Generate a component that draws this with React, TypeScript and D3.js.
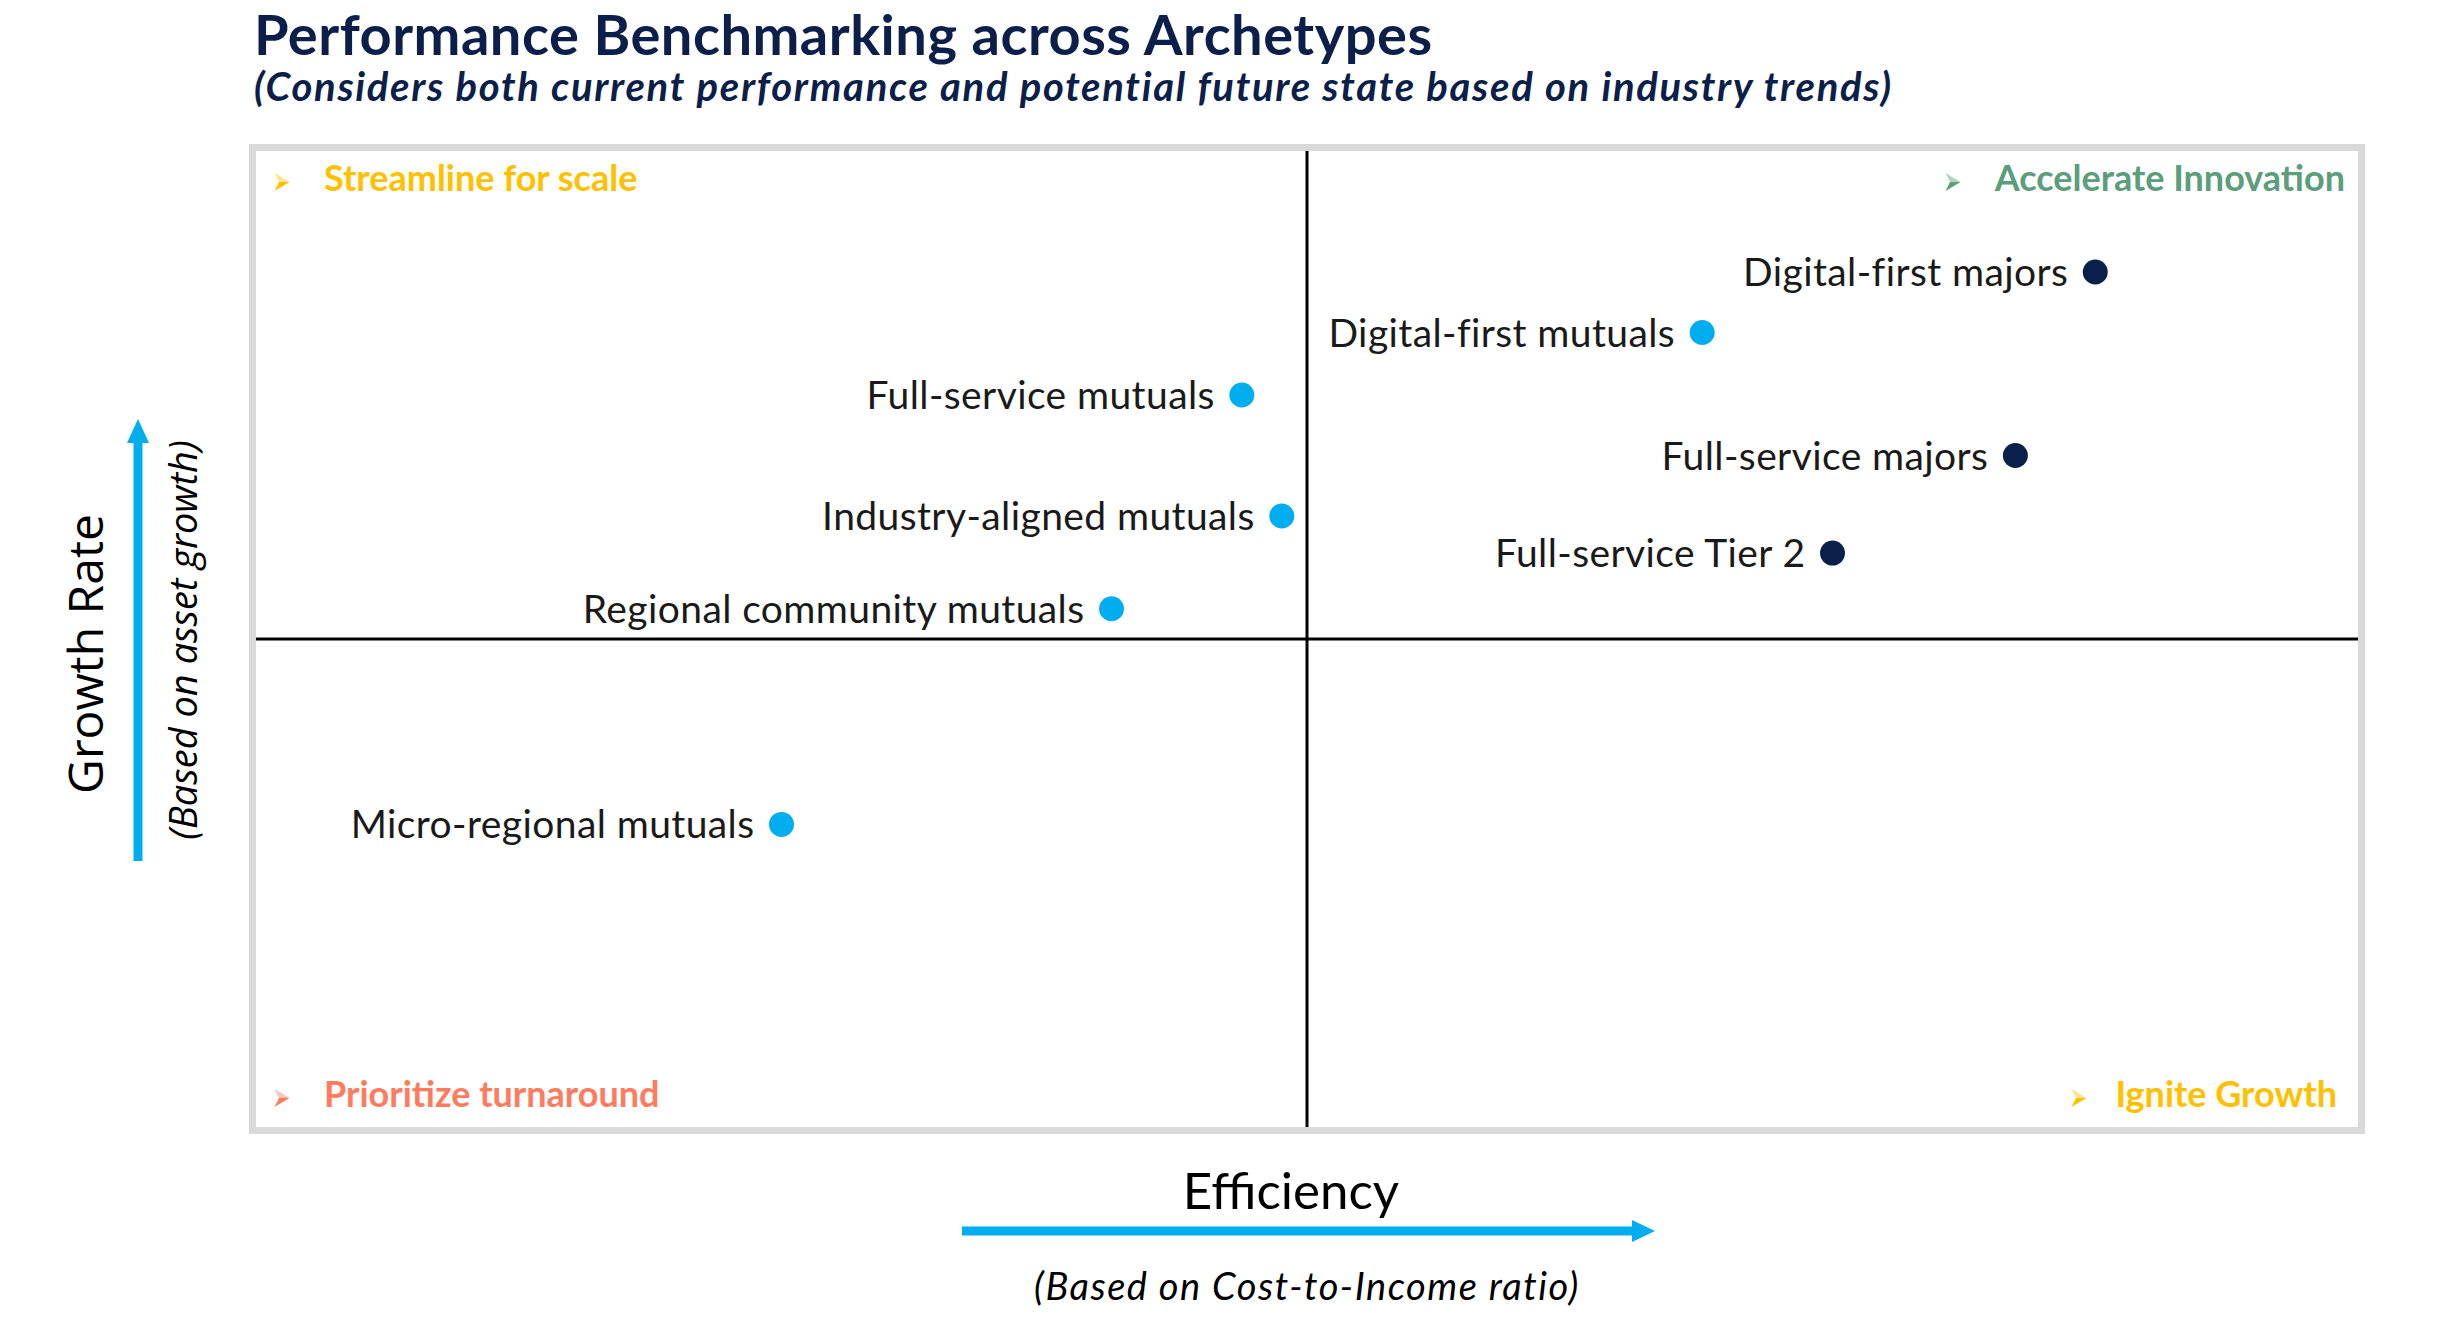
import * as d3 from "d3";

// archetypes: efficiency (x, 0-100) and growth rate (y, 0-100), 50 = quadrant split
const names = [
  "Digital-first majors",
  "Digital-first mutuals",
  "Full-service mutuals",
  "Full-service majors",
  "Industry-aligned mutuals",
  "Full-service Tier 2",
  "Regional community mutuals",
  "Micro-regional mutuals",
];
const efficiency = [87.5, 68.8, 46.9, 83.7, 48.8, 75, 40.7, 25];
const growth = [87.6, 81.4, 75, 68.8, 62.6, 58.8, 53.1, 31];
const groups = ["major", "mutual", "mutual", "major", "mutual", "major", "mutual", "mutual"];

const quadrants = [
  { name: "Streamline for scale", corner: "tl", color: "#FFC000" },
  { name: "Accelerate Innovation", corner: "tr", color: "#5A9E7B" },
  { name: "Prioritize turnaround", corner: "bl", color: "#FF7B5E" },
  { name: "Ignite Growth", corner: "br", color: "#FFC000" },
];

const W = 2440;
const H = 1328;
const box = { left: 256, right: 2358, top: 151, bottom: 1127 };
const navy = "#0B1F4B";
const blue = "#00AEEF";

const x = d3.scaleLinear().domain([0, 100]).range([box.left, box.right]);
const y = d3.scaleLinear().domain([0, 100]).range([box.bottom, box.top]);
const color = d3.scaleOrdinal<string, string>().domain(["major", "mutual"]).range([navy, blue]);

function Marker({ cx, cy, fill }: { cx: number; cy: number; fill: string }) {
  const w = 15;
  const h = 18;
  const x0 = cx - w / 2;
  const y0 = cy - h / 2;
  const top = d3.path();
  top.moveTo(x0, y0);
  top.lineTo(x0 + w, y0 + h / 2);
  top.lineTo(x0 + w * 0.3, y0 + h / 2);
  top.closePath();
  const bottom = d3.path();
  bottom.moveTo(x0 + w * 0.3, y0 + h / 2);
  bottom.lineTo(x0 + w, y0 + h / 2);
  bottom.lineTo(x0, y0 + h);
  bottom.closePath();
  return (
    <g>
      <path d={top.toString()} fill={fill} opacity={0.45} />
      <path d={bottom.toString()} fill={fill} />
    </g>
  );
}

export default function App() {
  const points = names.map((n, i) => ({
    name: n,
    x: efficiency[i],
    y: growth[i],
    group: groups[i],
  }));
  const cx = x(50);
  const cy = y(50);

  return (
    <svg
      width={W}
      height={H}
      style={{ position: "absolute", left: 0, top: 0, display: "block", background: "#fff" }}
      fontFamily="Lato, 'Noto Sans', sans-serif"
    >
      <rect width={W} height={H} fill="#fff" />

      {/* title */}
      <text x={254} y={55} fontSize={56} fontWeight={700} letterSpacing={0.5} fill="#0C1F4A">
        Performance Benchmarking across Archetypes
      </text>
      <text
        x={254}
        y={101}
        fontSize={40}
        fontWeight={700}
        fontStyle="italic"
        letterSpacing={1.7}
        fill="#0C1F4A"
      >
        (Considers both current performance and potential future state based on industry trends)
      </text>

      {/* frame */}
      <rect
        x={box.left - 3.5}
        y={box.top - 3.5}
        width={box.right - box.left + 7}
        height={box.bottom - box.top + 7}
        fill="#fff"
        stroke="#D9D9D9"
        strokeWidth={7}
      />

      {/* quadrant split lines */}
      <line x1={cx} x2={cx} y1={box.top} y2={box.bottom} stroke="#000" strokeWidth={3} />
      <line x1={box.left} x2={box.right} y1={cy} y2={cy} stroke="#000" strokeWidth={3} />

      {/* quadrant labels */}
      {quadrants.map((q) => {
        const isLeft = q.corner[1] === "l";
        const isTop = q.corner[0] === "t";
        const base = isTop ? 191 : 1107;
        const tx = isLeft ? 324 : q.corner === "tr" ? 2345 : 2337;
        const mx = isLeft ? 282 : q.corner === "tr" ? 1953 : 2079;
        return (
          <g key={q.name}>
            <Marker cx={mx} cy={base - 9} fill={q.color} />
            <text
              x={tx}
              y={base}
              fontSize={36}
              fontWeight={700}
              fill={q.color}
              textAnchor={isLeft ? "start" : "end"}
            >
              {q.name}
            </text>
          </g>
        );
      })}

      {/* points */}
      {points.map((p) => (
        <g key={p.name}>
          <circle cx={x(p.x)} cy={y(p.y)} r={12.5} fill={color(p.group)} />
          <text
            x={x(p.x) - 27}
            y={y(p.y) + 14}
            fontSize={39}
            letterSpacing={0.4}
            fill="#1A1A1A"
            textAnchor="end"
          >
            {p.name}
          </text>
        </g>
      ))}

      {/* y axis title */}
      <text
        transform={`translate(103,654) rotate(-90)`}
        fontFamily="'Open Sans', sans-serif"
        fontSize={48}
        fill="#000"
        textAnchor="middle"
      >
        Growth Rate
      </text>
      <text
        transform={`translate(197,640) rotate(-90)`}
        fontFamily="'Open Sans', sans-serif"
        fontSize={38}
        fontStyle="italic"
        fill="#000"
        textAnchor="middle"
      >
        (Based on asset growth)
      </text>
      <line x1={138} x2={138} y1={861} y2={442} stroke={blue} strokeWidth={9} />
      <path d="M127,443 L149,443 L138,419 Z" fill={blue} />

      {/* x axis title */}
      <text x={1291} y={1209} fontSize={51} fill="#000" textAnchor="middle">
        Efficiency
      </text>
      <line x1={962} x2={1634} y1={1231} y2={1231} stroke={blue} strokeWidth={9} />
      <path d="M1632,1220 L1632,1242 L1655,1231 Z" fill={blue} />
      <text
        x={1307}
        y={1300}
        fontSize={38}
        fontStyle="italic"
        letterSpacing={1.5}
        fill="#000"
        textAnchor="middle"
      >
        (Based on Cost-to-Income ratio)
      </text>
    </svg>
  );
}
